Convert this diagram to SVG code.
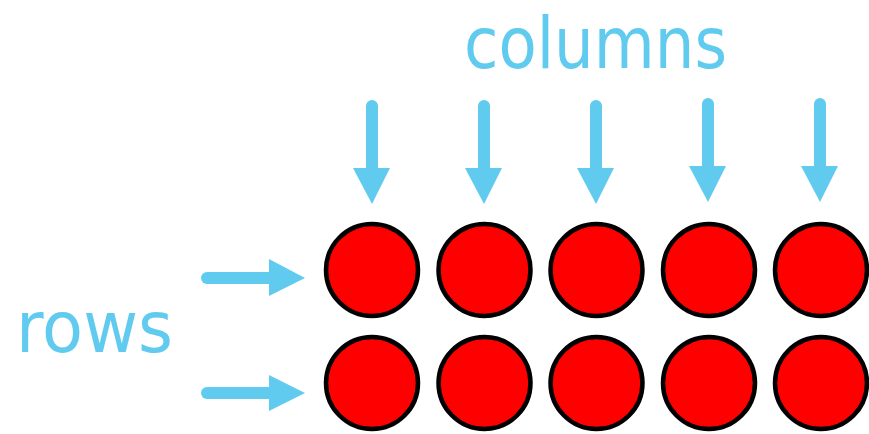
<svg xmlns="http://www.w3.org/2000/svg" width="869" height="434" viewBox="0 0 869 434">
<style>
.lbl{font-family:"DejaVu Sans","Liberation Sans",sans-serif;font-size:72px;fill:#60CBEF}
.shaft{stroke:#60CBEF;stroke-width:12;stroke-linecap:round;fill:none}
.head{fill:#60CBEF}
.dot{fill:#FF0000;stroke:#000;stroke-width:4.5}
</style>
<rect width="869" height="434" fill="#fff"/>
<g id="labels">
<text class="lbl" x="464" y="68" textLength="263" lengthAdjust="spacingAndGlyphs">columns</text>
<text class="lbl" x="16" y="352" textLength="157" lengthAdjust="spacingAndGlyphs">rows</text>
</g>
<g id="connectors">
<g id="col-arrows">
<line class="shaft" x1="372" y1="106" x2="372" y2="172"/><polygon class="head" points="353,168 390,168 372,204"/>
<line class="shaft" x1="484" y1="106" x2="484" y2="172"/><polygon class="head" points="465,168 502,168 484,204"/>
<line class="shaft" x1="596" y1="106" x2="596" y2="172"/><polygon class="head" points="577,168 614,168 596,204"/>
<line class="shaft" x1="708" y1="104" x2="708" y2="170"/><polygon class="head" points="689,166 726,166 708,202"/>
<line class="shaft" x1="820" y1="104" x2="820" y2="170"/><polygon class="head" points="801,166 838,166 820,202"/>
</g>
<g id="row-arrows">
<line class="shaft" x1="207" y1="278" x2="272" y2="278"/><polygon class="head" points="269,259 269,296 305,278"/>
<line class="shaft" x1="207" y1="393" x2="272" y2="393"/><polygon class="head" points="269,375 269,411 305,393"/>
</g>
</g>
<g id="row1">
<g id="c11"><circle class="dot" cx="372" cy="270" r="46"/></g>
<g id="c12"><circle class="dot" cx="484.5" cy="270" r="46"/></g>
<g id="c13"><circle class="dot" cx="596.5" cy="270" r="46"/></g>
<g id="c14"><circle class="dot" cx="709" cy="270" r="46"/></g>
<g id="c15"><circle class="dot" cx="821" cy="270" r="46"/></g>
</g>
<g id="row2">
<g id="c21"><circle class="dot" cx="372" cy="383" r="46"/></g>
<g id="c22"><circle class="dot" cx="484.5" cy="383" r="46"/></g>
<g id="c23"><circle class="dot" cx="596.5" cy="383" r="46"/></g>
<g id="c24"><circle class="dot" cx="709" cy="383" r="46"/></g>
<g id="c25"><circle class="dot" cx="821" cy="383" r="46"/></g>
</g>
</svg>
